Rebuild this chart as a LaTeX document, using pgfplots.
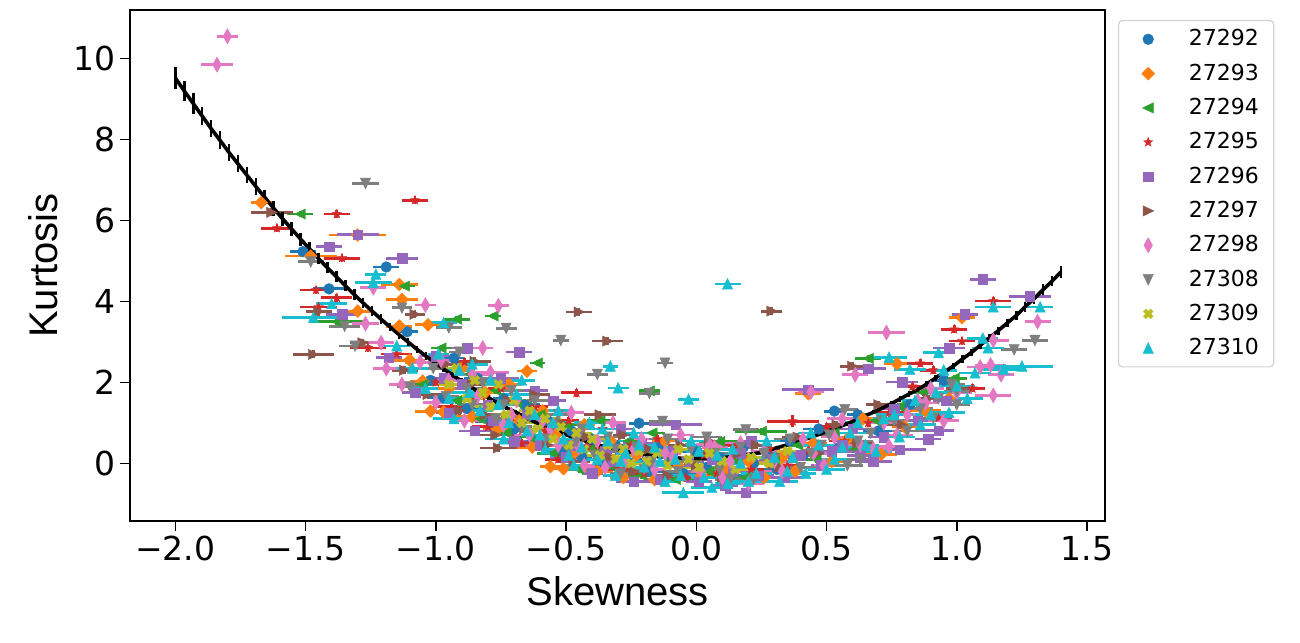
\documentclass[border=0pt]{standalone}
\usepackage{fontspec}
\setmainfont{Liberation Sans}
\newfontfamily\dejavu{DejaVu Sans}
\usepackage{pgfplots}
\usepackage{pgfplotstable}
\pgfplotsset{compat=1.18}

\definecolor{c0}{HTML}{1F77B4}
\definecolor{c1}{HTML}{FF7F0E}
\definecolor{c2}{HTML}{2CA02C}
\definecolor{c3}{HTML}{D62728}
\definecolor{c4}{HTML}{9467BD}
\definecolor{c5}{HTML}{8C564B}
\definecolor{c6}{HTML}{E377C2}
\definecolor{c7}{HTML}{7F7F7F}
\definecolor{c8}{HTML}{BCBD22}
\definecolor{c9}{HTML}{17BECF}

\pgfdeclareplotmark{mD}{%
 \pgfpathmoveto{\pgfpoint{0pt}{1.2\pgfplotmarksize}}%
 \pgfpathlineto{\pgfpoint{1.2\pgfplotmarksize}{0pt}}%
 \pgfpathlineto{\pgfpoint{0pt}{-1.2\pgfplotmarksize}}%
 \pgfpathlineto{\pgfpoint{-1.2\pgfplotmarksize}{0pt}}%
 \pgfpathclose\pgfusepathqfillstroke}
\pgfdeclareplotmark{md}{%
 \pgfpathmoveto{\pgfpoint{0pt}{1.4\pgfplotmarksize}}%
 \pgfpathlineto{\pgfpoint{0.8\pgfplotmarksize}{0pt}}%
 \pgfpathlineto{\pgfpoint{0pt}{-1.4\pgfplotmarksize}}%
 \pgfpathlineto{\pgfpoint{-0.8\pgfplotmarksize}{0pt}}%
 \pgfpathclose\pgfusepathqfillstroke}
\pgfdeclareplotmark{mtu}{%
 \pgfpathmoveto{\pgfpoint{0pt}{1.05\pgfplotmarksize}}%
 \pgfpathlineto{\pgfpoint{0.95\pgfplotmarksize}{-0.95\pgfplotmarksize}}%
 \pgfpathlineto{\pgfpoint{-0.95\pgfplotmarksize}{-0.95\pgfplotmarksize}}%
 \pgfpathclose\pgfusepathqfillstroke}
\pgfdeclareplotmark{mtd}{%
 \pgfpathmoveto{\pgfpoint{0pt}{-1.05\pgfplotmarksize}}%
 \pgfpathlineto{\pgfpoint{0.95\pgfplotmarksize}{0.95\pgfplotmarksize}}%
 \pgfpathlineto{\pgfpoint{-0.95\pgfplotmarksize}{0.95\pgfplotmarksize}}%
 \pgfpathclose\pgfusepathqfillstroke}
\pgfdeclareplotmark{mtl}{%
 \pgfpathmoveto{\pgfpoint{-1.05\pgfplotmarksize}{0pt}}%
 \pgfpathlineto{\pgfpoint{0.95\pgfplotmarksize}{0.95\pgfplotmarksize}}%
 \pgfpathlineto{\pgfpoint{0.95\pgfplotmarksize}{-0.95\pgfplotmarksize}}%
 \pgfpathclose\pgfusepathqfillstroke}
\pgfdeclareplotmark{mtr}{%
 \pgfpathmoveto{\pgfpoint{1.05\pgfplotmarksize}{0pt}}%
 \pgfpathlineto{\pgfpoint{-0.95\pgfplotmarksize}{0.95\pgfplotmarksize}}%
 \pgfpathlineto{\pgfpoint{-0.95\pgfplotmarksize}{-0.95\pgfplotmarksize}}%
 \pgfpathclose\pgfusepathqfillstroke}
\pgfdeclareplotmark{ms}{%
 \pgfpathrectanglecorners{\pgfpoint{-0.88\pgfplotmarksize}{-0.88\pgfplotmarksize}}{\pgfpoint{0.88\pgfplotmarksize}{0.88\pgfplotmarksize}}%
 \pgfusepathqfillstroke}
\pgfdeclareplotmark{mstar}{%
 \pgfpathmoveto{\pgfpointpolar{90}{0.9\pgfplotmarksize}}%
 \pgfpathlineto{\pgfpointpolar{126}{0.36\pgfplotmarksize}}%
 \pgfpathlineto{\pgfpointpolar{162}{0.9\pgfplotmarksize}}%
 \pgfpathlineto{\pgfpointpolar{198}{0.36\pgfplotmarksize}}%
 \pgfpathlineto{\pgfpointpolar{234}{0.9\pgfplotmarksize}}%
 \pgfpathlineto{\pgfpointpolar{270}{0.36\pgfplotmarksize}}%
 \pgfpathlineto{\pgfpointpolar{306}{0.9\pgfplotmarksize}}%
 \pgfpathlineto{\pgfpointpolar{342}{0.36\pgfplotmarksize}}%
 \pgfpathlineto{\pgfpointpolar{18}{0.9\pgfplotmarksize}}%
 \pgfpathlineto{\pgfpointpolar{54}{0.36\pgfplotmarksize}}%
 \pgfpathclose\pgfusepathqfillstroke}
\pgfdeclareplotmark{mX}{%
 \pgfpathmoveto{\pgfpoint{0pt}{0.453\pgfplotmarksize}}%
 \pgfpathlineto{\pgfpoint{-0.445\pgfplotmarksize}{0.898\pgfplotmarksize}}%
 \pgfpathlineto{\pgfpoint{-0.898\pgfplotmarksize}{0.445\pgfplotmarksize}}%
 \pgfpathlineto{\pgfpoint{-0.453\pgfplotmarksize}{0pt}}%
 \pgfpathlineto{\pgfpoint{-0.898\pgfplotmarksize}{-0.445\pgfplotmarksize}}%
 \pgfpathlineto{\pgfpoint{-0.445\pgfplotmarksize}{-0.898\pgfplotmarksize}}%
 \pgfpathlineto{\pgfpoint{0pt}{-0.453\pgfplotmarksize}}%
 \pgfpathlineto{\pgfpoint{0.445\pgfplotmarksize}{-0.898\pgfplotmarksize}}%
 \pgfpathlineto{\pgfpoint{0.898\pgfplotmarksize}{-0.445\pgfplotmarksize}}%
 \pgfpathlineto{\pgfpoint{0.453\pgfplotmarksize}{0pt}}%
 \pgfpathlineto{\pgfpoint{0.898\pgfplotmarksize}{0.445\pgfplotmarksize}}%
 \pgfpathlineto{\pgfpoint{0.445\pgfplotmarksize}{0.898\pgfplotmarksize}}%
 \pgfpathclose\pgfusepathqfillstroke}

% ---------------- data: skewness, kurtosis, x error, y error ----------------
\pgfplotstableread{
x y ex ey
-1.51 5.23 0.05 0.08
-1.19 4.85 0.05 0.08
-1.41 4.31 0.06 0.08
-1.11 3.25 0.04 0.08
-0.22 0.99 0.04 0.08
0.53 1.29 0.04 0.08
-1.02 2.05 0.05 0.08
-0.97 1.62 0.06 0.08
-0.93 2.60 0.04 0.08
-0.88 1.35 0.07 0.08
-0.84 2.10 0.05 0.08
-0.79 1.02 0.06 0.08
-0.74 1.60 0.04 0.08
-0.70 0.85 0.05 0.08
-0.66 1.45 0.06 0.08
-0.61 0.55 0.05 0.08
-0.57 1.05 0.04 0.08
-0.52 0.30 0.07 0.08
-0.48 0.80 0.05 0.08
-0.44 0.15 0.04 0.08
-0.40 0.60 0.06 0.08
-0.35 -0.05 0.05 0.08
-0.31 0.45 0.04 0.08
-0.27 0.10 0.06 0.08
-0.22 0.35 0.05 0.08
-0.18 -0.20 0.07 0.08
-0.14 0.40 0.04 0.08
-0.09 0.05 0.05 0.08
-0.05 -0.25 0.06 0.08
0.00 0.30 0.05 0.08
0.04 -0.10 0.04 0.08
0.09 0.15 0.06 0.08
0.13 -0.30 0.05 0.08
0.18 0.40 0.04 0.08
0.22 0.00 0.07 0.08
0.27 0.25 0.05 0.08
0.31 -0.15 0.06 0.08
0.36 0.55 0.04 0.08
0.41 0.20 0.05 0.08
0.47 0.85 0.06 0.08
0.55 0.40 0.05 0.08
0.62 1.20 0.04 0.08
0.70 0.80 0.06 0.08
0.82 1.45 0.05 0.08
0.95 2.05 0.05 0.08
}\tA
\pgfplotstableread{
x y ex ey
-1.67 6.44 0.04 0.10
-1.30 5.64 0.11 0.10
-1.48 5.12 0.10 0.08
-1.14 4.42 0.07 0.08
-1.13 4.05 0.06 0.08
-1.30 3.76 0.06 0.08
-1.14 3.39 0.05 0.08
-1.03 3.42 0.05 0.08
-1.05 2.03 0.05 0.08
1.02 3.60 0.05 0.08
0.77 2.46 0.05 0.08
0.43 1.72 0.05 0.08
-1.02 1.29 0.06 0.08
-0.97 1.27 0.06 0.08
-0.51 -0.13 0.05 0.08
-0.56 -0.08 0.04 0.08
-0.65 2.28 0.04 0.08
-1.10 2.55 0.06 0.08
-0.95 1.85 0.05 0.08
-0.90 2.35 0.04 0.08
-0.86 1.15 0.07 0.08
-0.81 1.75 0.05 0.08
-0.76 0.85 0.06 0.08
-0.72 1.95 0.05 0.08
-0.68 1.05 0.04 0.08
-0.63 0.40 0.06 0.08
-0.59 1.30 0.05 0.08
-0.54 0.70 0.07 0.08
-0.47 0.25 0.05 0.08
-0.43 0.95 0.04 0.08
-0.38 -0.20 0.06 0.08
-0.33 0.55 0.05 0.08
-0.28 -0.35 0.05 0.08
-0.23 0.20 0.06 0.08
-0.16 -0.40 0.04 0.08
-0.12 0.55 0.05 0.08
-0.07 -0.05 0.06 0.08
0.02 -0.30 0.05 0.08
0.07 0.35 0.04 0.08
0.12 -0.15 0.07 0.08
0.20 0.05 0.05 0.08
0.26 -0.35 0.06 0.08
0.33 0.15 0.05 0.08
0.38 -0.20 0.04 0.08
0.45 0.50 0.05 0.08
0.52 0.05 0.06 0.08
0.58 0.60 0.05 0.08
0.64 1.10 0.04 0.08
0.71 0.22 0.06 0.08
0.80 0.90 0.05 0.08
0.88 1.30 0.06 0.08
0.97 1.60 0.05 0.08
}\tB
\pgfplotstableread{
x y ex ey
-1.52 6.16 0.05 0.08
-1.12 4.38 0.04 0.08
-1.38 3.50 0.10 0.08
-0.92 3.56 0.05 0.08
-0.78 3.64 0.03 0.08
-0.61 2.48 0.03 0.08
-0.18 1.79 0.04 0.08
0.66 2.59 0.05 0.08
-0.45 -0.15 0.06 0.08
0.25 0.79 0.10 0.08
0.09 0.54 0.08 0.08
-0.17 0.75 0.05 0.08
-1.05 1.95 0.05 0.08
-0.98 2.85 0.04 0.08
-0.92 1.55 0.06 0.08
-0.87 2.20 0.05 0.08
-0.83 1.10 0.07 0.08
-0.77 1.80 0.05 0.08
-0.73 0.75 0.04 0.08
-0.69 1.50 0.06 0.08
-0.64 0.65 0.05 0.08
-0.60 1.20 0.04 0.08
-0.55 0.25 0.06 0.08
-0.50 0.95 0.05 0.08
-0.41 0.35 0.07 0.08
-0.37 1.05 0.05 0.08
-0.32 -0.10 0.06 0.08
-0.26 0.55 0.04 0.08
-0.21 -0.30 0.05 0.08
-0.13 0.20 0.06 0.08
-0.08 -0.40 0.08 0.08
-0.03 0.45 0.05 0.08
0.05 -0.20 0.04 0.08
0.14 0.10 0.06 0.08
0.19 -0.35 0.05 0.08
0.30 0.05 0.04 0.08
0.39 0.45 0.06 0.08
0.46 0.10 0.05 0.08
0.53 0.75 0.07 0.08
0.61 0.35 0.05 0.08
0.69 1.05 0.04 0.08
0.78 1.40 0.06 0.08
0.87 1.75 0.05 0.08
0.99 2.10 0.05 0.08
}\tC
\pgfplotstableread{
x y ex ey
-1.61 5.81 0.06 0.10
-1.38 6.16 0.05 0.10
-1.08 6.50 0.05 0.10
-1.36 5.07 0.07 0.10
-1.46 4.28 0.06 0.10
-1.38 4.09 0.06 0.10
-1.45 3.86 0.07 0.10
-1.26 2.85 0.07 0.10
1.14 4.01 0.07 0.10
0.99 3.31 0.05 0.10
1.02 3.02 0.05 0.10
0.86 2.47 0.05 0.10
1.06 1.85 0.05 0.10
0.93 1.12 0.05 0.10
0.37 1.04 0.10 0.15
-0.46 1.74 0.06 0.10
-1.15 2.70 0.06 0.10
-1.00 2.00 0.05 0.10
-0.94 1.40 0.07 0.10
-0.89 2.50 0.05 0.10
-0.85 1.60 0.04 0.10
-0.80 0.90 0.06 0.10
-0.75 1.85 0.05 0.10
-0.71 1.15 0.04 0.10
-0.67 0.50 0.06 0.10
-0.62 1.40 0.05 0.10
-0.58 0.80 0.07 0.10
-0.53 0.10 0.05 0.10
-0.49 1.05 0.04 0.10
-0.42 0.40 0.06 0.10
-0.36 0.85 0.05 0.10
-0.30 -0.15 0.06 0.10
-0.25 0.45 0.04 0.10
-0.20 -0.25 0.05 0.10
-0.15 0.60 0.06 0.10
-0.10 0.00 0.05 0.10
-0.04 -0.35 0.07 0.10
0.03 0.20 0.05 0.10
0.08 -0.25 0.04 0.10
0.16 0.45 0.06 0.10
0.21 -0.15 0.05 0.10
0.28 0.35 0.04 0.10
0.35 -0.05 0.06 0.10
0.43 0.30 0.05 0.10
0.50 0.90 0.04 0.10
0.57 0.55 0.06 0.10
0.66 1.00 0.05 0.10
0.74 1.25 0.06 0.10
0.83 1.90 0.05 0.10
0.91 2.30 0.05 0.10
}\tD
\pgfplotstableread{
x y ex ey
-1.30 5.65 0.08 0.10
-1.41 5.35 0.05 0.10
-1.13 5.07 0.06 0.10
-1.36 3.68 0.06 0.10
-1.18 2.61 0.05 0.10
-0.88 2.85 0.06 0.10
-0.68 2.75 0.05 0.10
1.10 4.55 0.05 0.10
1.28 4.13 0.08 0.10
1.03 3.68 0.05 0.10
0.97 2.85 0.06 0.10
0.66 2.34 0.07 0.10
0.79 2.01 0.06 0.10
0.93 0.81 0.06 0.10
0.78 0.34 0.10 0.10
0.19 -0.73 0.08 0.10
0.43 1.82 0.10 0.10
-0.08 0.96 0.10 0.10
-1.08 1.75 0.05 0.10
-1.00 2.65 0.06 0.10
-0.95 1.25 0.05 0.10
-0.90 1.95 0.04 0.10
-0.85 0.80 0.06 0.10
-0.80 1.45 0.05 0.10
-0.75 2.10 0.07 0.10
-0.70 0.55 0.05 0.10
-0.65 1.20 0.04 0.10
-0.60 0.45 0.06 0.10
-0.55 1.55 0.05 0.10
-0.50 0.15 0.06 0.10
-0.45 0.75 0.05 0.10
-0.40 -0.25 0.04 0.10
-0.35 0.30 0.06 0.10
-0.29 0.85 0.05 0.10
-0.24 -0.45 0.07 0.10
-0.19 0.05 0.05 0.10
-0.14 -0.40 0.06 0.10
-0.09 0.30 0.04 0.10
0.01 -0.45 0.05 0.10
0.06 0.10 0.06 0.10
0.11 -0.55 0.05 0.10
0.17 0.25 0.04 0.10
0.24 -0.30 0.06 0.10
0.29 0.10 0.05 0.10
0.34 -0.35 0.07 0.10
0.40 0.20 0.05 0.10
0.48 -0.05 0.04 0.10
0.56 0.45 0.06 0.10
0.63 0.20 0.05 0.10
0.72 0.65 0.06 0.10
0.85 1.05 0.05 0.10
0.96 1.55 0.05 0.10
-0.97 2.10 0.06 0.10
-0.78 1.05 0.07 0.10
-0.62 1.80 0.05 0.10
-0.47 0.45 0.08 0.10
-0.32 0.05 0.06 0.10
-0.21 0.50 0.07 0.10
-0.03 0.05 0.06 0.10
0.14 -0.20 0.07 0.10
0.21 0.55 0.05 0.10
0.37 0.15 0.06 0.10
0.52 0.30 0.09 0.10
0.60 0.85 0.06 0.10
0.68 0.05 0.07 0.10
0.76 1.35 0.06 0.10
0.89 0.60 0.05 0.10
}\tE
\pgfplotstableread{
x y ex ey
-1.63 6.20 0.08 0.10
-1.47 2.69 0.08 0.10
-1.45 3.75 0.05 0.10
-1.28 2.98 0.05 0.10
-1.08 3.68 0.04 0.10
-0.45 3.74 0.05 0.10
0.29 3.76 0.04 0.10
-0.34 3.02 0.06 0.10
0.60 2.40 0.05 0.10
-0.76 0.38 0.07 0.10
-0.85 2.52 0.06 0.10
-1.12 2.30 0.05 0.10
-1.03 1.70 0.06 0.10
-0.96 2.45 0.05 0.10
-0.91 1.30 0.04 0.10
-0.86 1.95 0.06 0.10
-0.81 1.20 0.05 0.10
-0.77 0.70 0.07 0.10
-0.72 1.55 0.05 0.10
-0.66 0.85 0.04 0.10
-0.62 1.70 0.06 0.10
-0.57 0.45 0.05 0.10
-0.52 1.00 0.04 0.10
-0.47 0.05 0.06 0.10
-0.42 0.65 0.05 0.10
-0.37 1.20 0.06 0.10
-0.33 0.15 0.05 0.10
-0.28 0.70 0.04 0.10
-0.24 -0.20 0.06 0.10
-0.18 0.35 0.05 0.10
-0.11 -0.30 0.07 0.10
-0.06 0.45 0.05 0.10
0.00 -0.05 0.04 0.10
0.05 0.55 0.06 0.10
0.10 -0.35 0.05 0.10
0.15 0.20 0.04 0.10
0.23 0.45 0.06 0.10
0.32 -0.10 0.05 0.10
0.39 0.65 0.06 0.10
0.47 0.25 0.05 0.10
0.54 0.95 0.04 0.10
0.62 0.50 0.06 0.10
0.70 1.45 0.05 0.10
0.79 0.95 0.06 0.10
0.89 1.60 0.05 0.10
1.01 1.85 0.05 0.10
}\tF
\pgfplotstableread{
x y ex ey
-1.84 9.85 0.06 0.12
-1.80 10.55 0.04 0.12
-1.24 4.34 0.05 0.12
-1.04 3.91 0.04 0.12
-0.76 3.89 0.04 0.12
-1.27 3.45 0.05 0.12
-1.21 2.98 0.05 0.12
-1.19 2.34 0.05 0.12
-0.82 2.85 0.04 0.12
0.73 3.23 0.07 0.12
1.31 3.50 0.05 0.12
1.14 3.04 0.06 0.12
1.13 2.43 0.06 0.12
1.09 2.38 0.05 0.12
1.17 2.19 0.05 0.12
1.14 1.68 0.07 0.12
0.88 1.49 0.05 0.12
0.61 2.19 0.05 0.12
0.74 0.42 0.05 0.12
0.44 1.76 0.05 0.12
0.05 0.46 0.05 0.12
-1.13 1.95 0.05 0.12
-1.06 2.50 0.06 0.12
-1.00 1.50 0.05 0.12
-0.95 2.05 0.04 0.12
-0.89 1.05 0.06 0.12
-0.84 1.65 0.05 0.12
-0.79 2.25 0.07 0.12
-0.74 0.95 0.05 0.12
-0.69 1.55 0.04 0.12
-0.64 0.70 0.06 0.12
-0.59 1.05 0.05 0.12
-0.53 0.45 0.06 0.12
-0.48 1.25 0.05 0.12
-0.43 -0.05 0.04 0.12
-0.38 0.55 0.06 0.12
-0.32 1.00 0.05 0.12
-0.27 0.05 0.07 0.12
-0.21 0.60 0.05 0.12
-0.16 -0.15 0.04 0.12
-0.12 0.25 0.06 0.12
-0.06 0.70 0.05 0.12
0.02 -0.20 0.06 0.12
0.07 0.40 0.05 0.12
0.13 0.05 0.04 0.12
0.20 -0.50 0.06 0.12
0.26 0.30 0.05 0.12
0.33 -0.20 0.07 0.12
0.41 0.60 0.05 0.12
0.49 -0.05 0.04 0.12
0.56 1.10 0.06 0.12
0.63 0.45 0.05 0.12
0.72 1.00 0.06 0.12
0.81 1.20 0.05 0.12
0.90 1.85 0.05 0.12
1.00 1.75 0.06 0.12
-0.98 2.55 0.05 0.12
-0.86 2.20 0.06 0.12
-0.71 1.20 0.05 0.12
-0.56 0.85 0.06 0.12
-0.45 0.40 0.05 0.12
-0.35 -0.10 0.07 0.12
-0.24 0.35 0.05 0.12
-0.09 0.15 0.06 0.12
0.10 -0.35 0.05 0.12
0.17 0.50 0.06 0.12
0.30 0.05 0.05 0.12
0.45 0.25 0.06 0.12
0.53 0.65 0.05 0.12
0.68 0.35 0.07 0.12
0.77 0.70 0.06 0.12
0.85 1.55 0.05 0.12
0.95 1.05 0.06 0.12
}\tG
\pgfplotstableread{
x y ex ey
-1.27 6.92 0.05 0.08
-1.48 4.98 0.05 0.08
-1.35 3.39 0.06 0.08
-1.31 2.90 0.06 0.08
-1.13 3.84 0.04 0.08
-0.95 3.35 0.05 0.08
-0.73 3.34 0.04 0.08
-0.52 3.04 0.03 0.08
-0.38 2.20 0.04 0.08
-0.12 2.48 0.03 0.08
-0.18 1.73 0.04 0.08
1.30 3.04 0.05 0.08
1.22 2.81 0.05 0.08
1.00 1.45 0.05 0.08
1.00 1.78 0.05 0.08
0.91 1.12 0.05 0.08
0.63 0.09 0.05 0.08
-0.13 1.04 0.05 0.08
0.19 0.83 0.05 0.08
0.57 1.33 0.05 0.08
-1.10 1.90 0.05 0.08
-1.01 2.35 0.06 0.08
-0.96 1.65 0.05 0.08
-0.91 2.75 0.04 0.08
-0.86 1.45 0.06 0.08
-0.82 2.00 0.05 0.08
-0.77 1.10 0.07 0.08
-0.71 1.80 0.05 0.08
-0.67 0.90 0.04 0.08
-0.62 1.55 0.06 0.08
-0.58 0.60 0.05 0.08
-0.53 1.20 0.04 0.08
-0.49 0.35 0.06 0.08
-0.44 0.85 0.05 0.08
-0.39 0.20 0.06 0.08
-0.34 0.65 0.05 0.08
-0.29 -0.25 0.04 0.08
-0.23 0.40 0.06 0.08
-0.17 0.05 0.05 0.08
-0.11 0.60 0.07 0.08
-0.07 -0.20 0.05 0.08
-0.02 0.35 0.04 0.08
0.04 0.65 0.06 0.08
0.09 -0.15 0.05 0.08
0.17 0.40 0.04 0.08
0.22 -0.40 0.06 0.08
0.30 0.10 0.05 0.08
0.36 0.60 0.06 0.08
0.44 0.25 0.05 0.08
0.51 0.70 0.04 0.08
0.58 -0.05 0.06 0.08
0.67 0.75 0.05 0.08
0.76 1.05 0.06 0.08
0.86 1.35 0.05 0.08
0.98 1.95 0.05 0.08
-0.88 1.85 0.06 0.08
-0.74 1.45 0.05 0.08
-0.64 1.15 0.06 0.08
-0.55 0.95 0.05 0.08
-0.46 0.55 0.04 0.08
-0.31 0.35 0.06 0.08
-0.20 -0.15 0.05 0.08
-0.04 0.05 0.06 0.08
0.07 0.25 0.05 0.08
0.13 -0.40 0.06 0.08
0.26 0.25 0.05 0.08
0.40 -0.10 0.06 0.08
0.48 0.45 0.05 0.08
0.62 0.55 0.06 0.08
0.71 1.05 0.05 0.08
0.81 0.80 0.06 0.08
0.93 1.60 0.05 0.08
}\tH
\pgfplotstableread{
x y ex ey
-0.95 1.95 0.05 0.08
-0.92 2.35 0.04 0.08
-0.88 1.60 0.06 0.08
-0.85 2.05 0.05 0.08
-0.82 1.75 0.04 0.08
-0.79 1.40 0.06 0.08
-0.76 1.95 0.05 0.08
-0.73 1.20 0.04 0.08
-0.70 1.55 0.05 0.08
-0.67 1.00 0.06 0.08
-0.64 1.30 0.04 0.08
-0.61 0.85 0.05 0.08
-0.58 1.10 0.06 0.08
-0.55 0.60 0.05 0.08
-0.52 0.90 0.04 0.08
-0.49 0.45 0.05 0.08
-0.46 0.75 0.06 0.08
-0.43 0.35 0.04 0.08
-0.40 0.60 0.05 0.08
-0.37 0.20 0.06 0.08
-0.34 0.45 0.05 0.08
-0.31 0.10 0.04 0.08
-0.28 0.35 0.05 0.08
-0.25 0.00 0.06 0.08
-0.22 0.30 0.04 0.08
-0.19 0.05 0.05 0.08
-0.15 0.25 0.06 0.08
-0.11 -0.05 0.05 0.08
-0.07 0.35 0.04 0.08
-0.03 0.10 0.05 0.08
0.01 -0.10 0.06 0.08
0.05 0.25 0.05 0.08
0.10 0.05 0.04 0.08
0.15 -0.15 0.05 0.08
0.21 0.15 0.06 0.08
0.28 0.00 0.05 0.08
0.35 0.30 0.04 0.08
}\tI
\pgfplotstableread{
x y ex ey
0.12 4.43 0.05 0.08
-1.23 4.67 0.04 0.08
-1.24 4.46 0.07 0.08
-1.40 3.94 0.06 0.08
-1.47 3.60 0.12 0.08
-0.97 3.47 0.05 0.08
-0.33 2.40 0.03 0.08
-0.30 1.86 0.04 0.08
-0.03 1.58 0.04 0.08
1.14 3.86 0.07 0.08
1.32 3.86 0.05 0.08
1.10 3.09 0.06 0.08
0.93 2.73 0.06 0.08
1.12 2.85 0.06 0.08
0.74 2.62 0.07 0.08
0.82 2.32 0.06 0.08
1.25 2.40 0.12 0.08
1.18 2.32 0.08 0.08
1.07 2.23 0.06 0.08
1.00 1.91 0.07 0.08
-0.05 -0.73 0.08 0.08
-1.15 2.90 0.05 0.08
-1.09 2.35 0.06 0.08
-1.04 1.85 0.05 0.08
-0.99 2.70 0.04 0.08
-0.95 1.60 0.06 0.08
-0.91 2.30 0.05 0.08
-0.87 1.75 0.07 0.08
-0.83 1.30 0.05 0.08
-0.79 2.05 0.04 0.08
-0.76 1.45 0.06 0.08
-0.72 1.00 0.05 0.08
-0.69 1.70 0.06 0.08
-0.65 0.80 0.05 0.08
-0.62 1.20 0.04 0.08
-0.58 0.35 0.06 0.08
-0.55 1.00 0.05 0.08
-0.51 0.60 0.07 0.08
-0.47 -0.05 0.05 0.08
-0.44 0.40 0.04 0.08
-0.41 1.00 0.06 0.08
-0.38 0.10 0.05 0.08
-0.34 0.55 0.06 0.08
-0.31 -0.30 0.05 0.08
-0.27 0.25 0.04 0.08
-0.24 0.75 0.06 0.08
-0.20 -0.10 0.05 0.08
-0.16 0.40 0.07 0.08
-0.12 -0.45 0.05 0.08
-0.08 0.10 0.04 0.08
-0.02 0.55 0.06 0.08
0.03 -0.35 0.05 0.08
0.08 0.20 0.06 0.08
0.12 -0.50 0.05 0.08
0.17 0.00 0.04 0.08
0.23 -0.25 0.06 0.08
0.27 0.55 0.05 0.08
0.32 -0.45 0.07 0.08
0.37 0.15 0.05 0.08
0.42 -0.25 0.04 0.08
0.47 0.45 0.06 0.08
0.53 0.10 0.05 0.08
0.59 0.75 0.06 0.08
0.65 0.45 0.05 0.08
0.72 1.10 0.04 0.08
0.78 0.65 0.06 0.08
0.84 1.55 0.05 0.08
0.90 1.20 0.06 0.08
0.95 2.30 0.05 0.08
1.04 1.60 0.06 0.08
-0.93 1.10 0.08 0.08
-0.86 2.45 0.06 0.08
-0.74 0.60 0.07 0.08
-0.67 2.05 0.05 0.08
-0.60 0.70 0.06 0.08
-0.53 1.30 0.05 0.08
-0.49 0.20 0.07 0.08
-0.36 0.85 0.06 0.08
-0.29 0.05 0.08 0.08
-0.22 0.45 0.06 0.08
-0.14 0.05 0.07 0.08
-0.06 -0.30 0.06 0.08
0.01 0.30 0.05 0.08
0.06 -0.60 0.08 0.08
0.14 0.35 0.06 0.08
0.20 -0.45 0.07 0.08
0.30 0.15 0.05 0.08
0.35 -0.20 0.06 0.08
0.44 0.75 0.05 0.08
0.50 -0.15 0.07 0.08
0.56 0.40 0.06 0.08
0.62 1.00 0.05 0.08
0.69 0.30 0.06 0.08
0.76 1.20 0.07 0.08
0.86 0.95 0.06 0.08
0.92 1.75 0.05 0.08
0.97 1.25 0.06 0.08
}\tJ
% model curve with its uncertainty
\pgfplotstableread{
x y e
-2.0000 9.52 0.26
-1.9657 9.20 0.25
-1.9313 8.89 0.25
-1.8970 8.58 0.23
-1.8626 8.27 0.22
-1.8283 7.98 0.22
-1.7939 7.68 0.21
-1.7596 7.40 0.21
-1.7253 7.12 0.20
-1.6909 6.84 0.20
-1.6566 6.57 0.18
-1.6222 6.30 0.18
-1.5879 6.04 0.17
-1.5535 5.79 0.17
-1.5192 5.54 0.16
-1.4848 5.30 0.16
-1.4505 5.06 0.14
-1.4162 4.83 0.14
-1.3818 4.61 0.14
-1.3475 4.39 0.13
-1.3131 4.17 0.13
-1.2788 3.96 0.12
-1.2444 3.76 0.12
-1.2101 3.56 0.12
-1.1758 3.37 0.10
-1.1414 3.18 0.10
-1.1071 3.00 0.10
-1.0727 2.82 0.09
-1.0384 2.65 0.09
-1.0040 2.49 0.09
-0.9697 2.33 0.08
-0.9354 2.18 0.08
-0.9010 2.03 0.08
-0.8667 1.89 0.07
-0.8323 1.75 0.07
-0.7980 1.62 0.07
-0.7636 1.49 0.07
-0.7293 1.37 0.05
-0.6949 1.27 0.05
-0.6606 1.15 0.05
-0.6263 1.04 0.05
-0.5919 0.94 0.04
-0.5576 0.85 0.04
-0.5232 0.76 0.04
-0.4889 0.68 0.04
-0.4545 0.61 0.04
-0.4202 0.54 0.04
-0.3859 0.47 0.03
-0.3515 0.41 0.03
-0.3172 0.36 0.03
-0.2828 0.31 0.03
-0.2485 0.27 0.03
-0.2141 0.23 0.03
-0.1798 0.20 0.03
-0.1455 0.17 0.03
-0.1111 0.15 0.03
-0.0768 0.13 0.03
-0.0424 0.12 0.03
-0.0081 0.12 0.03
0.0263 0.12 0.03
0.0606 0.13 0.03
0.0949 0.14 0.03
0.1293 0.16 0.03
0.1636 0.18 0.03
0.1980 0.21 0.03
0.2323 0.25 0.03
0.2667 0.29 0.03
0.3010 0.37 0.03
0.3354 0.43 0.03
0.3697 0.50 0.04
0.4040 0.57 0.04
0.4384 0.64 0.04
0.4727 0.72 0.04
0.5071 0.80 0.04
0.5414 0.88 0.04
0.5758 0.97 0.04
0.6101 1.06 0.05
0.6444 1.16 0.05
0.6788 1.26 0.05
0.7131 1.36 0.05
0.7475 1.47 0.07
0.7818 1.59 0.07
0.8162 1.71 0.07
0.8505 1.82 0.07
0.8848 1.96 0.08
0.9192 2.11 0.08
0.9535 2.26 0.08
0.9879 2.41 0.08
1.0222 2.58 0.09
1.0566 2.74 0.09
1.0909 2.92 0.09
1.1253 3.10 0.10
1.1596 3.28 0.10
1.1939 3.47 0.10
1.2283 3.65 0.12
1.2626 3.87 0.12
1.2970 4.07 0.13
1.3313 4.29 0.13
1.3657 4.50 0.13
1.4000 4.73 0.14
}\tCurve

\pgfplotsset{
  ser/.style n args={2}{only marks, mark=#2, mark size=2.7pt,
    color=#1, mark options={solid, fill=#1, draw=#1, line width=0.2pt},
    error bars/.cd, x dir=both, x explicit, y dir=both, y explicit,
    error mark=none, error bar style={line width=1.4pt, color=#1}},
}

\begin{document}
\begin{tikzpicture}
\useasboundingbox (0,0) rectangle (650pt,321pt);
\begin{axis}[
  at={(65pt,60.5pt)}, anchor=south west,
  scale only axis, width=487.5pt, height=255.5pt,
  xmin=-2.174, xmax=1.569, ymin=-1.425, ymax=11.2,
  axis line style={line width=1pt},
  tick align=outside, major tick length=5pt,
  tick style={line width=0.8pt, black},
  xtick pos=bottom, ytick pos=left,
  xtick={-2,-1.5,-1,-0.5,0,0.5,1,1.5},
  xticklabels={−2.0,−1.5,−1.0,−0.5,0.0,0.5,1.0,1.5},
  ytick={0,2,4,6,8,10},
  yticklabels={0,2,4,6,8,10},
  ticklabel style={font=\dejavu\fontsize{16.5}{18}\selectfont},
  xticklabel shift=-1pt, yticklabel shift=-1.5pt,
  xlabel={Skewness}, ylabel={Kurtosis},
  every axis x label/.style={at={(axis description cs:0.5,0)}, anchor=base, yshift=-42pt, font=\fontsize{20}{24}\selectfont},
  every axis y label/.style={at={(axis description cs:0,0.5)}, xshift=-36.5pt, rotate=90, anchor=base, font=\fontsize{20}{24}\selectfont},
  legend style={at={(rel axis cs:1,1)}, anchor=north west, xshift=6.5pt, yshift=-5pt,
    draw=black!18, line width=0.6pt, rounded corners=2pt,
    font=\dejavu\fontsize{11}{13}\selectfont,
    inner xsep=5.5pt, inner ysep=2.5pt, row sep=3.5pt,
    nodes={inner xsep=2pt},
    /tikz/every odd column/.append style={column sep=9pt}},
  legend cell align=left,
  legend image code/.code={\path (-9pt,0pt) (9pt,0pt);
    \draw[#1, only marks] plot coordinates {(0pt,0pt)};},
]
\addplot[ser={c0}{*}] table[x=x,y=y,x error=ex,y error=ey]{\tA};
\addlegendentry{27292}
\addplot[ser={c1}{mD}] table[x=x,y=y,x error=ex,y error=ey]{\tB};
\addlegendentry{27293}
\addplot[ser={c2}{mtl}] table[x=x,y=y,x error=ex,y error=ey]{\tC};
\addlegendentry{27294}
\addplot[ser={c3}{mstar}] table[x=x,y=y,x error=ex,y error=ey]{\tD};
\addlegendentry{27295}
\addplot[ser={c4}{ms}] table[x=x,y=y,x error=ex,y error=ey]{\tE};
\addlegendentry{27296}
\addplot[ser={c5}{mtr}] table[x=x,y=y,x error=ex,y error=ey]{\tF};
\addlegendentry{27297}
\addplot[ser={c6}{md}] table[x=x,y=y,x error=ex,y error=ey]{\tG};
\addlegendentry{27298}
\addplot[ser={c7}{mtd}] table[x=x,y=y,x error=ex,y error=ey]{\tH};
\addlegendentry{27308}
\addplot[ser={c8}{mX}] table[x=x,y=y,x error=ex,y error=ey]{\tI};
\addlegendentry{27309}
\addplot[ser={c9}{mtu}] table[x=x,y=y,x error=ex,y error=ey]{\tJ};
\addlegendentry{27310}
\addplot[black, line width=1.8pt, mark=none, forget plot,
  error bars/.cd, y dir=both, y explicit, error mark=none,
  error bar style={line width=1.3pt, black}]
  table[x=x,y=y,y error=e]{\tCurve};
\end{axis}
\end{tikzpicture}
\end{document}
